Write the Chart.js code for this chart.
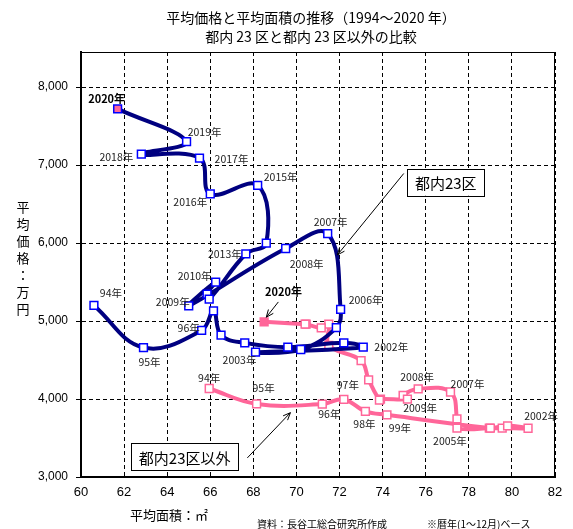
<!DOCTYPE html>
<html>
<head>
<meta charset="utf-8">
<script src="https://cdn.jsdelivr.net/npm/chart.js@4.4.1/dist/chart.umd.min.js"></script>
<style>
  html, body { margin: 0; padding: 0; background: #fff; }
  #wrap { width: 573px; height: 529px; }
</style>
</head>
<body>
<div id="wrap"><canvas id="chart" width="573" height="529"></canvas></div>
<script>
// Years 1994 - 2020
const years = [1994, 1995, 1996, 1997, 1998, 1999, 2000, 2001, 2002, 2003, 2004, 2005, 2006,
               2007, 2008, 2009, 2010, 2011, 2012, 2013, 2014, 2015, 2016, 2017, 2018, 2019, 2020];

// 都内23区 : average area (m2) and average price (万円)
const tokuArea  = [60.6, 62.9, 65.6, 66.15, 66.5, 67.6, 69.6, 72.2, 73.1, 68.1, 70.2, 71.85, 72.05,
                   71.45, 69.5, 65.0, 66.25, 65.85, 65.95, 67.65, 68.6, 68.2, 66.0, 65.5, 62.8, 64.9, 61.7];
const tokuPrice = [5200, 4660, 4880, 5130, 4820, 4720, 4665, 4720, 4665, 4600, 4635, 4915, 5150,
                   6120, 5930, 5195, 5500, 5345, 5280, 5860, 6000, 6740, 6630, 7090, 7140, 7300, 7720];

// 都内23区以外
const outArea  = [65.95, 68.15, 71.2, 72.2, 73.2, 74.2, 78.95, 79.55, 80.75, 79.8, 79.0, 77.45, 77.45,
                  77.15, 75.65, 74.95, 75.15, 73.9, 73.85, 73.35, 73.0, 71.5, 71.5, 71.15, 70.45, 70.4, 68.5];
const outPrice = [4135, 3937, 3935, 3995, 3842, 3798, 3627, 3627, 3625, 3657, 3628, 3627, 3745,
                  4090, 4130, 4045, 4000, 4000, 3985, 4246, 4493, 4688, 4960, 4912, 4960, 4960, 4990];

const xTicks = [60, 62, 64, 66, 68, 70, 72, 74, 76, 78, 80, 82];
const yTicks = [3000, 4000, 5000, 6000, 7000, 8000];

// which years get a text label, with pixel offset of the label from the marker
const tokuLabels = [
  [1994, 17, -12], [1995, 6, 14], [1996, -13, -2], [2002, 28, 0], [2003, -16, 8],
  [2006, 25, -9], [2007, 3, -12], [2008, 21, 16], [2009, -16, -4], [2010, -21, -6],
  [2013, -21, 0], [2015, 23, -8], [2016, -20, 8], [2017, 32, 1], [2018, -25, 3],
  [2019, 18, -10], [2020, -11, -10, true]
];
const outLabels = [
  [1994, 0, -10], [1995, 7, -16], [1996, 7, 10], [1997, 4, -14], [1998, -1, 13],
  [1999, 13, 13], [2002, 13, -12], [2005, -7, 13], [2007, 17, -8], [2008, -1, -12],
  [2009, 17, 13]
];

const NAVY = '#000080';
const BLUE = '#0000ff';
const PINK = '#ff6699';
const JP = '"Noto Sans CJK JP", "Noto Sans", sans-serif';
const LAT = '"Liberation Sans", Arial, sans-serif';

function yearText(yr) {
    return yr < 2000 ? String(yr).slice(2) + '年' : yr + '年';
}

function toPoints(xs, ys) {
    return xs.map((v, i) => ({ x: v, y: ys[i] }));
}

// last marker (2020) filled pink
const fillFor = (n) => years.map((yr, i) => i === n - 1 ? PINK : '#ffffff');

function drawArrow(ctx, x1, y1, x2, y2) {
    const a = Math.atan2(y2 - y1, x2 - x1);
    ctx.beginPath();
    ctx.moveTo(x1, y1);
    ctx.lineTo(x2, y2);
    ctx.moveTo(x2 - 8 * Math.cos(a - 0.4), y2 - 8 * Math.sin(a - 0.4));
    ctx.lineTo(x2, y2);
    ctx.lineTo(x2 - 8 * Math.cos(a + 0.4), y2 - 8 * Math.sin(a + 0.4));
    ctx.stroke();
}

function drawBox(ctx, text, cx, cy) {
    ctx.font = '15px ' + JP;
    const w = ctx.measureText(text).width + 15;
    const h = 27;
    ctx.fillStyle = '#fff';
    ctx.fillRect(cx - w / 2, cy - h / 2, w, h);
    ctx.strokeStyle = '#000';
    ctx.lineWidth = 1;
    ctx.strokeRect(Math.round(cx - w / 2) + 0.5, Math.round(cy - h / 2) + 0.5, Math.round(w), h);
    ctx.fillStyle = '#000';
    ctx.textAlign = 'center';
    ctx.textBaseline = 'middle';
    ctx.fillText(text, cx, cy + 1);
}

const overlay = {
    id: 'overlay',
    beforeDatasetsDraw(chart) {
        const { ctx, chartArea: a } = chart;
        ctx.save();
        ctx.strokeStyle = '#000';
        ctx.lineWidth = 1;
        ctx.beginPath();
        ctx.moveTo(a.left, a.top + 0.5);
        ctx.lineTo(a.right, a.top + 0.5);
        ctx.moveTo(a.right - 0.5, a.top);
        ctx.lineTo(a.right - 0.5, a.bottom);
        ctx.stroke();
        ctx.restore();
    },
    afterDatasetsDraw(chart) {
        const { ctx, scales: { x, y } } = chart;
        ctx.save();

        // year labels
        ctx.textAlign = 'center';
        ctx.textBaseline = 'middle';
        const put = (list, xs, ys) => {
            list.forEach(([yr, dx, dy, bold]) => {
                const i = years.indexOf(yr);
                ctx.font = bold ? 'bold 11px ' + JP : '10.5px ' + JP;
                ctx.fillStyle = bold ? '#000' : '#222';
                ctx.fillText(yearText(yr), x.getPixelForValue(xs[i]) + dx, y.getPixelForValue(ys[i]) + dy);
            });
        };
        put(tokuLabels, tokuArea, tokuPrice);
        put(outLabels, outArea, outPrice);

        // 2020 label for the outer series, with arrow
        ctx.font = 'bold 11px ' + JP;
        ctx.fillStyle = '#000';
        ctx.fillText('2020年', x.getPixelForValue(69.4), y.getPixelForValue(5375));
        ctx.strokeStyle = '#000';
        ctx.lineWidth = 1;
        drawArrow(ctx, x.getPixelForValue(69.16), y.getPixelForValue(5245),
                       x.getPixelForValue(68.6), y.getPixelForValue(5049));

        // callout arrows + boxes
        drawArrow(ctx, x.getPixelForValue(74.98), y.getPixelForValue(6892),
                       x.getPixelForValue(71.9), y.getPixelForValue(5848));
        drawArrow(ctx, x.getPixelForValue(67.72), y.getPixelForValue(3245),
                       x.getPixelForValue(69.72), y.getPixelForValue(3825));
        drawBox(ctx, '都内23区', x.getPixelForValue(76.93), y.getPixelForValue(6780));
        drawBox(ctx, '都内23区以外', x.getPixelForValue(64.81), y.getPixelForValue(3258));
        ctx.restore();
    },
    afterDraw(chart) {
        const { ctx } = chart;
        ctx.save();
        ctx.fillStyle = '#000';
        ctx.textBaseline = 'middle';

        // title
        ctx.textAlign = 'center';
        ctx.font = '14px ' + JP;
        ctx.fillText('平均価格と平均面積の推移（1994～2020 年）', 311, 18);
        ctx.fillText('都内 23 区と都内 23 区以外の比較', 311, 37);

        // y axis title, stacked vertically
        ctx.font = '13px ' + JP;
        '平均価格：万円'.split('').forEach((ch, i) => ctx.fillText(ch, 23, 207 + i * 17));

        // x axis title
        ctx.textAlign = 'left';
        ctx.font = '13px ' + JP;
        ctx.fillText('平均面積：㎡', 130, 515);

        // source note
        ctx.font = '10px ' + JP;
        ctx.fillText('資料：長谷工総合研究所作成', 257, 524);
        ctx.fillText('※暦年(1～12月)ベース', 427, 524);
        ctx.restore();
    }
};

new Chart(document.getElementById('chart').getContext('2d'), {
    type: 'scatter',
    data: {
        datasets: [
            {
                label: '都内23区',
                data: toPoints(tokuArea, tokuPrice),
                showLine: true,
                borderColor: NAVY,
                borderWidth: 4,
                tension: 0.4,
                pointStyle: 'rect',
                pointRadius: 5.5,
                pointBorderWidth: 1.5,
                pointBorderColor: BLUE,
                pointBackgroundColor: fillFor(tokuArea.length)
            },
            {
                label: '都内23区以外',
                data: toPoints(outArea, outPrice),
                showLine: true,
                borderColor: PINK,
                borderWidth: 4,
                tension: 0.4,
                pointStyle: 'rect',
                pointRadius: 5.5,
                pointBorderWidth: 1.5,
                pointBorderColor: PINK,
                pointBackgroundColor: fillFor(outArea.length)
            }
        ]
    },
    options: {
        responsive: false,
        animation: false,
        devicePixelRatio: 1,
        layout: { padding: { top: 52, right: 18, left: 0, bottom: 0 } },
        plugins: {
            legend: { display: false },
            tooltip: { enabled: false }
        },
        scales: {
            x: {
                type: 'linear',
                min: 60,
                max: 82,
                afterBuildTicks: s => { s.ticks = xTicks.map(v => ({ value: v })); },
                afterFit: s => { s.height = 52; },
                grid: { color: '#000', lineWidth: 1, drawTicks: false },
                border: { display: true, color: '#000', width: 2, dash: [4, 3] },
                ticks: { padding: 8, color: '#000', font: { family: LAT, size: 13 } }
            },
            y: {
                type: 'linear',
                min: 3000,
                max: 8450,
                afterBuildTicks: s => { s.ticks = yTicks.map(v => ({ value: v })); },
                afterFit: s => { s.width = 81; },
                grid: { color: '#000', lineWidth: 1, drawTicks: true, tickLength: 5, tickColor: '#000' },
                border: { display: true, color: '#000', width: 2, dash: [4, 3] },
                ticks: {
                    padding: 8,
                    color: '#000',
                    font: { family: LAT, size: 12 },
                    callback: v => v.toLocaleString('en-US')
                }
            }
        }
    },
    plugins: [overlay]
});
</script>
</body>
</html>
